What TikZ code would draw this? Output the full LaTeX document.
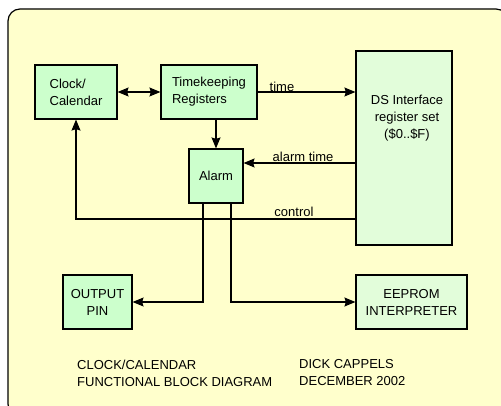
\documentclass[tikz,border=0pt]{standalone}
\usepackage{fontspec}
\setmainfont{Liberation Sans}
\usetikzlibrary{arrows.meta}
\definecolor{bgyellow}{HTML}{FFFFCC}
\definecolor{boxgreen}{HTML}{CCFFCC}
\definecolor{lightgreen}{HTML}{E2FDDA}
\tikzset{
  txt/.style={font=\fontsize{13}{17}\selectfont, inner sep=0pt},
  blk/.style={draw=black, line width=1.2pt, fill=boxgreen, inner sep=0pt, txt},
  lblk/.style={blk, fill=lightgreen},
  wire/.style={line width=1.1pt},
  arr/.style={wire, -{Stealth[length=11pt,width=9pt,inset=1.5pt]}},
  darr/.style={wire, {Stealth[length=11pt,width=9pt,inset=1.5pt]}-{Stealth[length=11pt,width=9pt,inset=1.5pt]}},
}
\begin{document}
\begin{tikzpicture}[x=1pt,y=-1pt]
\useasboundingbox (0,0) rectangle (501,406);
\begin{scope}
\clip (0,0) rectangle (501,406);
\draw[fill=bgyellow, line width=1.2pt, rounded corners=12pt] (8,416) -- (8,9) -- (508,9) -- (508,416) -- cycle;
\end{scope}

\node[blk, minimum width=82pt, minimum height=54pt, align=left] (clock) at (76,92) {Clock/\\Calendar};
\node[blk, minimum width=96pt, minimum height=54pt, align=left] (tk) at (209,92) {Timekeeping\\Registers};
\node[blk, minimum width=54pt, minimum height=54pt] (alarm) at (216,176) {Alarm};
\node[lblk, minimum width=96pt, minimum height=194pt] (ds) at (404,148) {};
\node[txt, align=center] (dstext) at (407,118) {DS Interface\\register set\\(\$0..\$F)};
\node[blk, minimum width=69pt, minimum height=54pt, align=center] (outpin) at (97.5,302) {OUTPUT\\PIN};
\node[lblk, minimum width=111pt, minimum height=54pt, align=center] (eeprom) at (411.5,302) {EEPROM\\INTERPRETER};

\draw[darr] (clock.east) -- (tk.west);
\draw[arr] (alarm.north |- tk.south) -- (alarm.north);
\draw[arr] (tk.east) -- (tk.east -| ds.west);
\draw[arr] (ds.west |- 0,163) -- (alarm.east |- 0,163);
\draw[arr] (ds.west |- 0,219) -| (clock.south);
\draw[arr] (alarm.south -| 203,0) |- (outpin.east);
\draw[arr] (alarm.south -| 231,0) |- (eeprom.west);

\node[txt] (ltime) at (282,87) {time};
\node[txt] (lalarm) at (303,157) {alarm time};
\node[txt] (lcontrol) at (294,212) {control};

\node[txt, anchor=west, align=left] (title) at (77,373) {CLOCK/CALENDAR\\FUNCTIONAL BLOCK DIAGRAM};
\node[txt, anchor=west, align=left] (author) at (299,373) {DICK CAPPELS\\DECEMBER 2002};
\end{tikzpicture}
\end{document}
